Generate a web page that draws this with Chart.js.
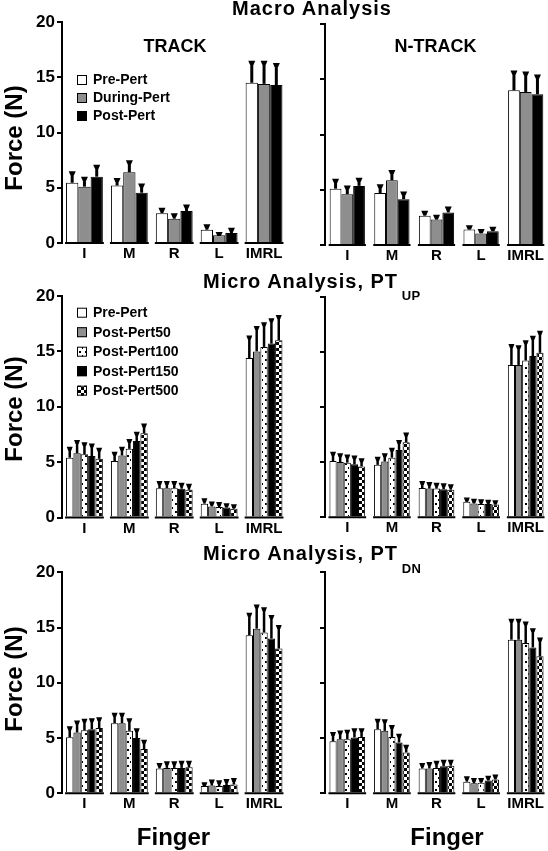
<!DOCTYPE html>
<html><head><meta charset="utf-8">
<script src="https://cdn.jsdelivr.net/npm/chart.js@4.4.1/dist/chart.umd.min.js"></script>
<style>
body{margin:0;width:548px;height:851px;position:relative;background:#fff;overflow:hidden;font-family:Arial,"Liberation Sans",Helvetica,sans-serif;}
canvas{position:absolute;}
.t{position:absolute;font-weight:bold;line-height:1;white-space:nowrap;color:#000;}
</style></head><body>
<canvas id="p1" width="290" height="268" style="left:0;top:0"></canvas>
<canvas id="p2" width="258" height="268" style="left:290px;top:0"></canvas>
<canvas id="p3" width="290" height="268" style="left:0;top:270px"></canvas>
<canvas id="p4" width="258" height="268" style="left:290px;top:270px"></canvas>
<canvas id="p5" width="290" height="311" style="left:0;top:540px"></canvas>
<canvas id="p6" width="258" height="311" style="left:290px;top:540px"></canvas>
<script>
// ---------- DATA ----------
const categories = ['I', 'M', 'R', 'L', 'IMRL'];
const macroNames = ['Pre-Pert', 'During-Pert', 'Post-Pert'];
const microNames = ['Pre-Pert', 'Post-Pert50', 'Post-Pert100', 'Post-Pert150', 'Post-Pert500'];

// Macro, TRACK
const trackPre = [5.45, 5.2, 2.7, 1.2, 14.5];
const trackPreSD = [0.95, 0.6, 0.4, 0.4, 1.9];
const trackDuring = [5.1, 6.4, 2.2, 0.7, 14.4];
const trackDuringSD = [0.8, 1.0, 0.4, 0.2, 2.0];
const trackPost = [6.0, 4.55, 2.9, 0.9, 14.3];
const trackPostSD = [1.0, 0.75, 0.5, 0.4, 1.9];
// Macro, N-TRACK
const ntrackPre = [5.1, 4.7, 2.65, 1.4, 14.0];
const ntrackPreSD = [0.8, 0.7, 0.35, 0.3, 1.7];
const ntrackDuring = [4.6, 5.85, 2.3, 1.05, 13.85];
const ntrackDuringSD = [0.7, 0.85, 0.35, 0.3, 1.75];
const ntrackPost = [5.35, 4.15, 2.95, 1.25, 13.65];
const ntrackPostSD = [0.65, 0.6, 0.45, 0.3, 1.7];
// Micro, PT UP (left)
const upLPre = [5.4, 5.1, 2.65, 1.25, 14.4];
const upLPreSD = [0.9, 0.75, 0.55, 0.4, 1.95];
const upL50 = [5.8, 5.6, 2.65, 1.0, 15.0];
const upL50SD = [1.1, 0.7, 0.55, 0.35, 2.2];
const upL100 = [5.7, 6.2, 2.65, 0.95, 15.4];
const upL100SD = [1.0, 0.8, 0.55, 0.35, 2.15];
const upL150 = [5.55, 6.9, 2.6, 0.9, 15.7];
const upL150SD = [1.05, 0.75, 0.45, 0.3, 2.2];
const upL500 = [5.3, 7.6, 2.5, 0.8, 16.0];
const upL500SD = [0.9, 0.8, 0.45, 0.3, 2.2];
// Micro, PT UP (right)
const upRPre = [5.1, 4.75, 2.65, 1.4, 13.8];
const upRPreSD = [0.75, 0.65, 0.55, 0.3, 1.8];
const upR50 = [5.0, 5.05, 2.6, 1.25, 13.8];
const upR50SD = [0.7, 0.65, 0.5, 0.35, 1.7];
const upR100 = [4.95, 5.4, 2.6, 1.2, 14.2];
const upR100SD = [0.65, 0.8, 0.45, 0.35, 1.75];
const upR150 = [4.8, 6.1, 2.55, 1.2, 14.6];
const upR150SD = [0.7, 0.8, 0.45, 0.3, 1.75];
const upR500 = [4.6, 6.8, 2.5, 1.15, 14.9];
const upR500SD = [0.65, 0.8, 0.4, 0.3, 1.9];
// Micro, PT DN (left)
const dnLPre = [5.07, 6.35, 2.25, 0.65, 14.3];
const dnLPreSD = [0.9, 0.85, 0.4, 0.25, 1.95];
const dnL50 = [5.5, 6.35, 2.3, 0.7, 14.9];
const dnL50SD = [1.0, 0.85, 0.5, 0.45, 2.1];
const dnL100 = [5.7, 5.65, 2.3, 0.65, 14.55];
const dnL100SD = [0.95, 1.05, 0.5, 0.45, 2.2];
const dnL150 = [5.8, 5.0, 2.3, 0.75, 14.0];
const dnL150SD = [0.9, 0.8, 0.55, 0.45, 2.05];
const dnL500 = [5.9, 4.0, 2.35, 0.8, 13.1];
const dnL500SD = [0.9, 0.75, 0.5, 0.5, 2.05];
// Micro, PT DN (right)
const dnRPre = [4.7, 5.8, 2.25, 1.05, 13.9];
const dnRPreSD = [0.75, 0.85, 0.4, 0.4, 1.8];
const dnR50 = [4.9, 5.65, 2.25, 0.9, 13.9];
const dnR50SD = [0.7, 0.95, 0.5, 0.4, 1.8];
const dnR100 = [4.9, 5.1, 2.3, 0.95, 13.6];
const dnR100SD = [0.75, 1.0, 0.55, 0.35, 1.85];
const dnR150 = [5.05, 4.6, 2.45, 1.15, 13.2];
const dnR150SD = [0.75, 0.7, 0.5, 0.35, 1.65];
const dnR500 = [5.1, 3.7, 2.5, 1.25, 12.4];
const dnR500SD = [0.7, 0.6, 0.45, 0.35, 1.6];

const yTicks = [0, 5, 10, 15, 20];

// ---------- STYLE ----------
Chart.defaults.font.family = 'Arial, "Liberation Sans", Helvetica, sans-serif';
function makePattern(kind) {
  const c = document.createElement('canvas');
  const x = c.getContext('2d');
  if (kind === 'dots') {
    c.width = 6; c.height = 8;
    x.fillStyle = '#fff'; x.fillRect(0, 0, 6, 8);
    x.fillStyle = '#000'; x.fillRect(1, 1, 2, 2); x.fillRect(4, 5, 1, 2);
  } else {
    c.width = 6; c.height = 6;
    x.fillStyle = '#fff'; x.fillRect(0, 0, 6, 6);
    x.fillStyle = '#000'; x.fillRect(0, 0, 3, 3); x.fillRect(3, 3, 3, 3);
  }
  return document.createElement('canvas').getContext('2d').createPattern(c, 'repeat');
}
const GRAY = '#8e8e8e';
const macroFills = ['#ffffff', GRAY, '#000000'];
const microFills = ['#ffffff', GRAY, makePattern('dots'), '#000000', makePattern('check')];

// ---------- PLUGINS ----------
const errPlugin = {
  id: 'errbars',
  afterDatasetsDraw(chart, args, o) {
    const ctx = chart.ctx, ys = chart.scales.y;
    chart.data.datasets.forEach((ds, i) => {
      const meta = chart.getDatasetMeta(i);
      meta.data.forEach((bar, j) => {
        const v = ds.data[j], e = ds.errors[j];
        const yTop = ys.getPixelForValue(v + e);
        const x = bar.x;
        ctx.save();
        ctx.strokeStyle = '#000'; ctx.lineWidth = o.stem;
        ctx.beginPath(); ctx.moveTo(x, bar.y); ctx.lineTo(x, yTop + 1); ctx.stroke();
        const w = o.cap;
        ctx.fillStyle = '#000';
        ctx.beginPath();
        ctx.moveTo(x - w / 2, yTop - 1); ctx.lineTo(x + w / 2, yTop - 1);
        ctx.lineTo(x + w / 4, yTop + 3); ctx.lineTo(x - w / 4, yTop + 3);
        ctx.closePath(); ctx.fill();
        ctx.restore();
      });
    });
  }
};
const segPlugin = {
  id: 'segs',
  afterDatasetsDraw(chart, args, o) {
    const xs = chart.scales.x, ys = chart.scales.y, ctx = chart.ctx;
    const cw = (xs.right - xs.left) / chart.data.labels.length;
    const y = ys.getPixelForValue(0);
    ctx.save(); ctx.strokeStyle = '#000'; ctx.lineWidth = 2;
    chart.data.labels.forEach((l, i) => {
      const cx = xs.getPixelForValue(i);
      ctx.beginPath();
      ctx.moveTo(cx - cw * o.pct / 2 - 1, y);
      ctx.lineTo(cx + cw * o.pct / 2 + 1, y);
      ctx.stroke();
    });
    ctx.restore();
  }
};
const legPlugin = {
  id: 'leg',
  afterDraw(chart, args, o) {
    if (!o || !o.show) return;
    const ctx = chart.ctx;
    ctx.save();
    chart.data.datasets.forEach((ds, i) => {
      const y = o.y + i * o.dy;
      ctx.fillStyle = ds.backgroundColor;
      ctx.fillRect(o.x, y - 5, 10, 10);
      ctx.strokeStyle = '#000'; ctx.lineWidth = 1;
      ctx.strokeRect(o.x + 0.5, y - 4.5, 9, 9);
      ctx.fillStyle = '#000';
      ctx.font = 'bold 14px Arial, "Liberation Sans", sans-serif';
      ctx.textBaseline = 'middle'; ctx.textAlign = 'left';
      ctx.fillText(ds.label, o.x + 16, y + 0.5);
    });
    ctx.restore();
  }
};

function makeChart(id, names, fills, vals, errs, cfg) {
  new Chart(document.getElementById(id), {
    type: 'bar',
    data: {
      labels: categories,
      datasets: vals.map((v, i) => ({
        label: names[i], data: v, errors: errs[i],
        backgroundColor: fills[i], borderColor: '#000', borderWidth: 1,
        categoryPercentage: cfg.pct, barPercentage: 1
      }))
    },
    options: {
      responsive: false, animation: false, events: [],
      layout: { padding: { top: cfg.top, right: cfg.right, left: 0, bottom: 0 } },
      plugins: {
        legend: { display: false }, tooltip: { enabled: false },
        leg: cfg.legend || { show: false },
        segs: { pct: cfg.pct },
        errbars: { stem: cfg.stem, cap: cfg.cap }
      },
      scales: {
        x: {
          grid: { display: false, drawTicks: false }, border: { display: false },
          ticks: { font: { size: 15, weight: 'bold' }, color: '#000', padding: 2, maxRotation: 0 },
          afterFit(s) { s.height = cfg.xh; }
        },
        y: {
          min: 0, max: 20,
          afterBuildTicks(s) { s.ticks = yTicks.map(v => ({ value: v })); },
          ticks: { display: cfg.yLabels, font: { size: 17, weight: 'bold' }, color: '#000', padding: 2 },
          grid: { display: true, drawOnChartArea: false, drawTicks: true, tickLength: 5, color: '#000', lineWidth: 2 },
          border: { display: true, color: '#000', width: 2 },
          afterFit(s) { s.width = cfg.yw; }
        }
      }
    },
    plugins: [errPlugin, segPlugin, legPlugin]
  });
}

const L3 = { yw: 62, right: 3.5, pct: 0.82, stem: 3, cap: 7, yLabels: true };
const R3 = { yw: 35, right: 0, pct: 0.79, stem: 3, cap: 7, yLabels: false };
const L5 = { yw: 62, right: 3.5, pct: 0.82, stem: 2.5, cap: 6, yLabels: true };
const R5 = { yw: 35, right: 0, pct: 0.8, stem: 2.5, cap: 6, yLabels: false };

makeChart('p1', macroNames, macroFills,
  [trackPre, trackDuring, trackPost], [trackPreSD, trackDuringSD, trackPostSD],
  Object.assign({}, L3, { top: 22, xh: 25, legend: { show: true, x: 77, y: 80, dy: 18 } }));
makeChart('p2', macroNames, macroFills,
  [ntrackPre, ntrackDuring, ntrackPost], [ntrackPreSD, ntrackDuringSD, ntrackPostSD],
  Object.assign({}, R3, { top: 24, xh: 23 }));
makeChart('p3', microNames, microFills,
  [upLPre, upL50, upL100, upL150, upL500], [upLPreSD, upL50SD, upL100SD, upL150SD, upL500SD],
  Object.assign({}, L5, { top: 26, xh: 20.5, legend: { show: true, x: 77, y: 42.7, dy: 19.5 } }));
makeChart('p4', microNames, microFills,
  [upRPre, upR50, upR100, upR150, upR500], [upRPreSD, upR50SD, upR100SD, upR150SD, upR500SD],
  Object.assign({}, R5, { top: 26.5, xh: 20.7 }));
makeChart('p5', microNames, microFills,
  [dnLPre, dnL50, dnL100, dnL150, dnL500], [dnLPreSD, dnL50SD, dnL100SD, dnL150SD, dnL500SD],
  Object.assign({}, L5, { top: 32.3, xh: 57.7 }));
makeChart('p6', microNames, microFills,
  [dnRPre, dnR50, dnR100, dnR150, dnR500], [dnRPreSD, dnR50SD, dnR100SD, dnR150SD, dnR500SD],
  Object.assign({}, R5, { top: 32.3, xh: 57.7 }));

// ---------- TEXT ----------
function addText(txt, x, baseline, size, align, extra) {
  const d = document.createElement('div');
  d.className = 't';
  d.textContent = txt;
  d.style.fontSize = size + 'px';
  d.style.top = (baseline - 0.8465 * size) + 'px';
  d.style.left = x + 'px';
  if (align === 'center') d.style.transform = 'translateX(-50%)';
  if (extra) Object.assign(d.style, extra);
  document.body.appendChild(d);
  return d;
}
function addRot(txt, cx, cy, size) {
  const d = document.createElement('div');
  d.className = 't';
  d.textContent = txt;
  d.style.fontSize = size + 'px';
  d.style.left = cx + 'px'; d.style.top = cy + 'px';
  d.style.transform = 'translate(-50%,-50%) rotate(-90deg)';
  document.body.appendChild(d);
}
addText('Macro Analysis', 312, 15, 20, 'center', { letterSpacing: '1px' });
addText('TRACK', 175, 52.5, 18, 'center');
addText('N-TRACK', 435.5, 52.5, 18, 'center');
addText('Micro Analysis, PT', 203, 288.3, 20, 'left', { letterSpacing: '1px' });
addText('UP', 401.7, 300, 13, 'left', { letterSpacing: '0.5px' });
addText('Micro Analysis, PT', 203, 560, 20, 'left', { letterSpacing: '1px' });
addText('DN', 401.7, 573.3, 13, 'left', { letterSpacing: '0.5px' });
addRot('Force (N)', 13.5, 138, 24);
addRot('Force (N)', 13.5, 409, 24);
addRot('Force (N)', 13.5, 679, 24);
addText('Finger', 173.5, 845, 24, 'center');
addText('Finger', 447, 845, 24, 'center');
</script>
</body></html>
